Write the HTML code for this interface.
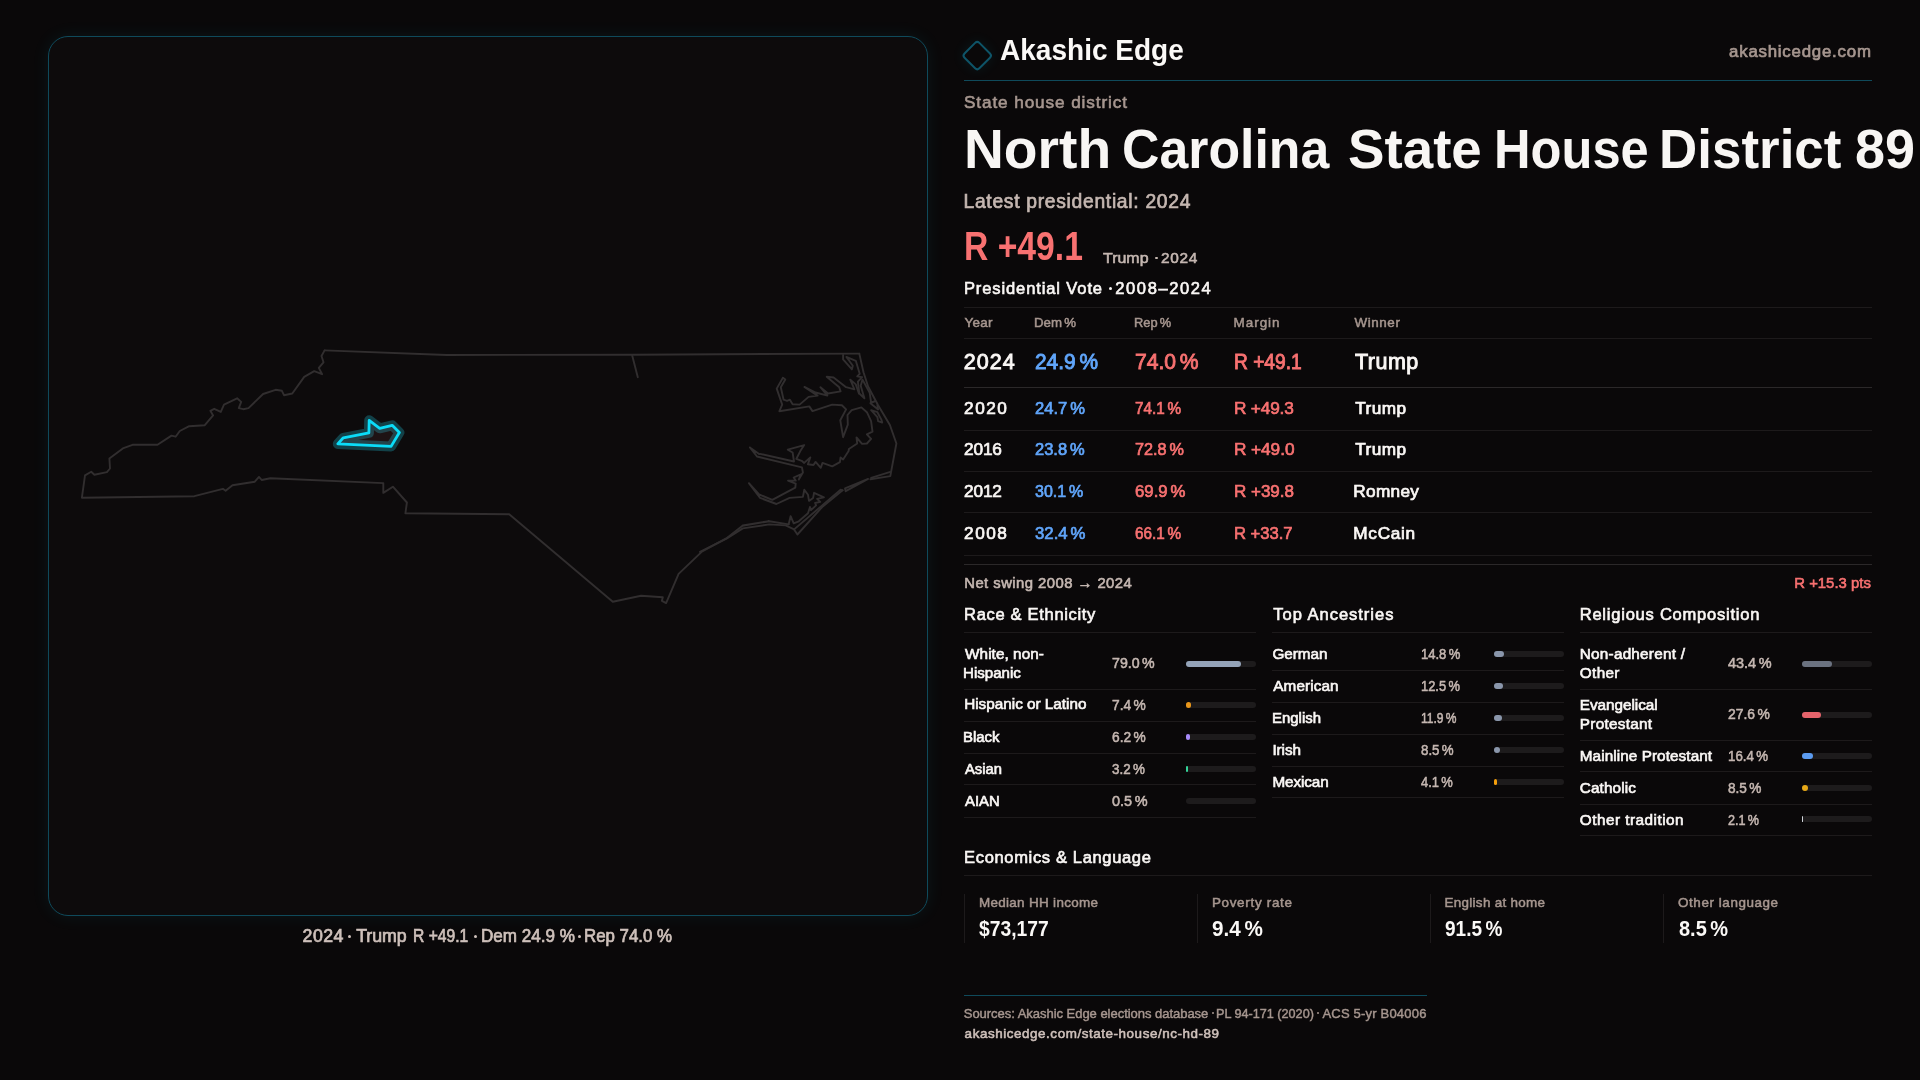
<!DOCTYPE html>
<html lang="en">
<head>
<meta charset="utf-8">
<title>North Carolina State House District 89 · Akashic Edge</title>
<style>
html,body{margin:0;padding:0;}
body{width:1920px;height:1080px;overflow:hidden;background:#0a0809;font-family:"Liberation Sans",sans-serif;position:relative;}
.t{position:absolute;white-space:pre;line-height:1;transform-origin:0 50%;}
.s{position:absolute;}
#panel{position:absolute;left:48px;top:36px;width:878px;height:878px;border:1px solid #0f4a5b;border-radius:20px;background:#0d0b0c;box-shadow:0 0 18px rgba(34,211,238,0.075);}
#logo{position:absolute;left:966.45px;top:43.75px;width:18.5px;height:18.5px;border:2px solid #0e5468;border-radius:4px;transform:rotate(45deg);box-shadow:0 0 14px rgba(34,211,238,0.09);}
#tx{position:absolute;left:0;top:0;width:1920px;height:1080px;will-change:transform;}
#map{position:absolute;left:0;top:0;width:1920px;height:1080px;}
</style>
</head>
<body>
<div id="panel"></div>
<svg id="map" viewBox="0 0 1920 1080" width="1920" height="1080" fill="none">
<defs><filter id="glow" x="-50%" y="-50%" width="200%" height="200%"><feGaussianBlur stdDeviation="1.6"/></filter></defs>
<g stroke="#312e2f" stroke-width="1.9" stroke-linejoin="round" stroke-linecap="round">
<path d="M324.6 350.4 L321.5 356.0 L323.5 362.3 L318.8 367.9 L322.1 374.2 L314.2 371.2 L304.2 376.9 L292.3 393.5 L284.0 395.2 L281.9 390.8 L275.6 389.8 L263.1 394.0 L248.5 408.1 L243.3 409.2 L238.8 408.1 L241.2 401.9 L237.1 398.3 L224.0 404.6 L220.8 411.9 L214.2 408.8 L210.4 410.8 L213.1 415.4 L204.8 425.2 L189.2 426.2 L179.8 431.0 L175.6 436.7 L171.5 435.6 L157.5 444.8 L132.5 444.8 L123.5 448.1 L109.4 458.5 L110.0 468.5 L106.9 472.1 L94.4 474.8 L91.2 471.7 L85.0 475.4 L81.9 497.7 L194.4 496.2 L222.9 488.8 L225.6 490.8 L232.5 485.2 L254.8 481.7 L259.0 476.9 L261.7 480.0 L270.4 478.3 L383.3 483.1 L383.3 492.9 L392.9 486.7 L406.9 502.5 L405.4 513.3 L509.2 514.2 L612.8 601.7 L641.1 595.8 L662.8 597.2 L661.9 600.8 L666.1 603.1 L678.6 573.9 L702.2 551.4 L727.2 537.8 L742.5 525.8 L768.9 521.1 L742.8 525.4 L769.3 521.3 L788.6 524.4"/>
<path d="M324.6 350.4 L446.7 355.0 L632.0 354.7 L859.3 353.6"/>
<path d="M632.2 355.6 L637.8 377.2"/>
<path d="M859.3 353.6 L863.5 372.2 L868.1 386.5 L878.1 405.3 L889.9 425.0 L896.4 443.5 L890.3 476.1 L870.4 479.3"/>
<path d="M890.3 471.9 L871.1 477.8"/>
<path d="M868.1 478.9 L845.7 491.2 L845.0 488.3 L868.1 478.9"/>
<path d="M842.6 490.3 L822.2 507.0 L797.4 534.5 L794.1 529.4 L785.6 525.4 L769.3 524.4 L742.8 528.4 L726.5 538.6 L700.0 551.9"/>
<path d="M794.1 529.4 L822.2 505.4 L840.6 489.7 L842.6 490.3"/>
<path d="M843.1 355.0 L843.1 359.4 L851.9 369.4 L852.8 365.7 L849.2 360.8 L846.4 356.9 L855.8 360.8 L859.7 373.8 L857.2 376.4 L862.1 377.2 L857.9 381.7 L859.3 393.5 L864.4 398.3 L860.7 385.8 L862.5 379.6 L869.7 392.8 L871.1 402.5 L875.3 401.1 L870.4 403.2 L878.1 409.4 L877.4 405.3"/>
<path d="M871.1 410.1 L877.4 412.2 L881.5 419.9 L882.2 422.6 L878.1 421.2 L877.4 417.1 Z"/>
<path d="M782.9 377.8 L785.3 379.6 L780.8 387.2 L783.6 399.7 L787.1 400.8 L789.9 399.7 L792.6 404.2 L799.6 404.6 L808.6 396.9 L817.6 395.6 L804.4 386.9 L815.6 392.5 L827.4 395.6 L820.4 387.2 L828.1 393.5 L840.6 391.4 L839.2 387.2 L826.7 376.8 L833.6 377.5 L846.1 387.2 L854.4 389.3 L850.3 379.6 L855.8 384.4 L858.9 393.5"/>
<path d="M782.9 377.8 L776.7 388.6 L782.2 404.6 L779.4 411.2 L809.3 406.4 L812.5 411.1 L832.2 404.6 L841.9 405.3 L846.1 409.4 L840.3 420.3 L843.1 437.2 L847.8 424.7 L847.5 415.0 L851.7 410.1 L861.4 407.4 L866.9 412.2 L871.1 421.2 L872.5 431.7 L866.9 434.4 L871.1 438.9 L866.9 443.5 L862.1 443.9 L856.5 437.5 L857.2 443.5 L848.9 449.0 L848.6 451.1 L843.1 459.4 L840.6 457.4 L839.9 462.2 L832.2 466.4 L822.5 462.9 L820.8 467.8 L815.6 461.9 L813.5 465.0 L807.9 464.3 L810.3 457.4 L804.2 462.9 L801.7 460.8 L796.4 458.8 L800.3 451.1 L804.2 445.1 L787.8 449.7 L792.6 452.5 L794.0 461.5 L760.0 453.9"/>
<path d="M759.1 454.1 L749.9 447.4 L757.0 456.5 L801.9 467.3 L802.9 472.4 L798.8 479.5 L800.8 474.4 L793.7 477.5 L795.7 480.6 L788.0 480.6 L795.7 483.6 L795.3 487.7 L772.3 499.9 L759.1 494.4 L748.9 483.2 L760.1 497.9 L776.4 504.0 L789.6 497.9 L802.9 496.9 L804.3 489.7 L808.0 494.8 L809.0 500.9 L813.1 497.9 L814.1 492.8 L823.9 497.3 L817.1 498.9 L820.2 501.9 L815.1 503.0 L816.1 505.4 L811.0 510.1 L810.0 507.0 L808.0 513.2 L798.8 521.3 L793.7 523.3 L790.6 516.2 L788.6 524.4"/>
</g>
<path d="M369.2 420.3 L379.7 428.3 L392.2 425.3 L399.4 432.5 L391.1 446.4 L337.8 443.9 L343.3 437.8 L368.9 432.8 Z" stroke="#22d3ee" stroke-opacity="0.27" stroke-width="10" stroke-linejoin="round"/>
<path d="M369.2 420.3 L379.7 428.3 L392.2 425.3 L399.4 432.5 L391.1 446.4 L337.8 443.9 L343.3 437.8 L368.9 432.8 Z" fill="rgba(248,113,113,0.08)" stroke="#0bdcf8" stroke-width="2.8" stroke-linejoin="round"/>
</svg>
<div id="logo"></div>
<div class="s" style="left:964px;top:80px;width:908px;height:1px;background:#0f4a5b"></div>
<div class="s" style="left:964px;top:307px;width:908px;height:1px;background:#1d1a1b"></div>
<div class="s" style="left:964px;top:338px;width:908px;height:1px;background:#1d1a1b"></div>
<div class="s" style="left:964px;top:387px;width:908px;height:1px;background:#2b2829"></div>
<div class="s" style="left:964px;top:430px;width:908px;height:1px;background:#1d1a1b"></div>
<div class="s" style="left:964px;top:471px;width:908px;height:1px;background:#1d1a1b"></div>
<div class="s" style="left:964px;top:512px;width:908px;height:1px;background:#1d1a1b"></div>
<div class="s" style="left:964px;top:555px;width:908px;height:1px;background:#1d1a1b"></div>
<div class="s" style="left:964px;top:564px;width:908px;height:1px;background:#2b2829"></div>
<div class="s" style="left:964px;top:632px;width:292px;height:1px;background:#1d1a1b"></div>
<div class="s" style="left:1272px;top:632px;width:292px;height:1px;background:#1d1a1b"></div>
<div class="s" style="left:1580px;top:632px;width:292px;height:1px;background:#1d1a1b"></div>
<div class="s" style="left:964px;top:689px;width:292px;height:1px;background:#1d1a1b"></div>
<div class="s" style="left:964px;top:721px;width:292px;height:1px;background:#1d1a1b"></div>
<div class="s" style="left:964px;top:753px;width:292px;height:1px;background:#1d1a1b"></div>
<div class="s" style="left:964px;top:784px;width:292px;height:1px;background:#1d1a1b"></div>
<div class="s" style="left:964px;top:817px;width:292px;height:1px;background:#1d1a1b"></div>
<div class="s" style="left:1272px;top:670px;width:292px;height:1px;background:#1d1a1b"></div>
<div class="s" style="left:1272px;top:702px;width:292px;height:1px;background:#1d1a1b"></div>
<div class="s" style="left:1272px;top:734px;width:292px;height:1px;background:#1d1a1b"></div>
<div class="s" style="left:1272px;top:766px;width:292px;height:1px;background:#1d1a1b"></div>
<div class="s" style="left:1272px;top:797px;width:292px;height:1px;background:#1d1a1b"></div>
<div class="s" style="left:1580px;top:689px;width:292px;height:1px;background:#1d1a1b"></div>
<div class="s" style="left:1580px;top:740px;width:292px;height:1px;background:#1d1a1b"></div>
<div class="s" style="left:1580px;top:771px;width:292px;height:1px;background:#1d1a1b"></div>
<div class="s" style="left:1580px;top:804px;width:292px;height:1px;background:#1d1a1b"></div>
<div class="s" style="left:1580px;top:835px;width:292px;height:1px;background:#1d1a1b"></div>
<div class="s" style="left:964px;top:875px;width:908px;height:1px;background:#1d1a1b"></div>
<div class="s" style="left:964px;top:894px;width:1px;height:49px;background:#1d1a1b"></div>
<div class="s" style="left:1197px;top:894px;width:1px;height:49px;background:#1d1a1b"></div>
<div class="s" style="left:1430px;top:894px;width:1px;height:49px;background:#1d1a1b"></div>
<div class="s" style="left:1663px;top:894px;width:1px;height:49px;background:#1d1a1b"></div>
<div class="s" style="left:964px;top:995px;width:463px;height:1px;background:#0f4a5b"></div>
<div class="s" style="left:1186px;top:661px;width:70px;height:6px;border-radius:3px;background:#1d1b1c"></div>
<div class="s" style="left:1186px;top:661px;width:55.30px;height:6px;border-radius:3px;background:#94a3b8"></div>
<div class="s" style="left:1186px;top:702px;width:70px;height:6px;border-radius:3px;background:#1d1b1c"></div>
<div class="s" style="left:1186px;top:702px;width:5.18px;height:6px;border-radius:3px;background:#e8961a"></div>
<div class="s" style="left:1186px;top:734px;width:70px;height:6px;border-radius:3px;background:#1d1b1c"></div>
<div class="s" style="left:1186px;top:734px;width:4.34px;height:6px;border-radius:3px;background:#a78bfa"></div>
<div class="s" style="left:1186px;top:766px;width:70px;height:6px;border-radius:3px;background:#1d1b1c"></div>
<div class="s" style="left:1186px;top:766px;width:2.24px;height:6px;border-radius:3px;background:#34d399"></div>
<div class="s" style="left:1186px;top:798px;width:70px;height:6px;border-radius:3px;background:#1d1b1c"></div>
<div class="s" style="left:1494px;top:651px;width:70px;height:6px;border-radius:3px;background:#1d1b1c"></div>
<div class="s" style="left:1494px;top:651px;width:10.36px;height:6px;border-radius:3px;background:#8a96ab"></div>
<div class="s" style="left:1494px;top:683px;width:70px;height:6px;border-radius:3px;background:#1d1b1c"></div>
<div class="s" style="left:1494px;top:683px;width:8.75px;height:6px;border-radius:3px;background:#8a96ab"></div>
<div class="s" style="left:1494px;top:715px;width:70px;height:6px;border-radius:3px;background:#1d1b1c"></div>
<div class="s" style="left:1494px;top:715px;width:8.33px;height:6px;border-radius:3px;background:#8a96ab"></div>
<div class="s" style="left:1494px;top:747px;width:70px;height:6px;border-radius:3px;background:#1d1b1c"></div>
<div class="s" style="left:1494px;top:747px;width:5.95px;height:6px;border-radius:3px;background:#8a96ab"></div>
<div class="s" style="left:1494px;top:779px;width:70px;height:6px;border-radius:3px;background:#1d1b1c"></div>
<div class="s" style="left:1494px;top:779px;width:2.87px;height:6px;border-radius:3px;background:#f59e0b"></div>
<div class="s" style="left:1802px;top:661px;width:70px;height:6px;border-radius:3px;background:#1d1b1c"></div>
<div class="s" style="left:1802px;top:661px;width:30.38px;height:6px;border-radius:3px;background:#6b7280"></div>
<div class="s" style="left:1802px;top:712px;width:70px;height:6px;border-radius:3px;background:#1d1b1c"></div>
<div class="s" style="left:1802px;top:712px;width:19.32px;height:6px;border-radius:3px;background:#e5636b"></div>
<div class="s" style="left:1802px;top:753px;width:70px;height:6px;border-radius:3px;background:#1d1b1c"></div>
<div class="s" style="left:1802px;top:753px;width:11.48px;height:6px;border-radius:3px;background:#5b9bf0"></div>
<div class="s" style="left:1802px;top:785px;width:70px;height:6px;border-radius:3px;background:#1d1b1c"></div>
<div class="s" style="left:1802px;top:785px;width:5.95px;height:6px;border-radius:3px;background:#e6a817"></div>
<div class="s" style="left:1802px;top:816px;width:70px;height:6px;border-radius:3px;background:#1d1b1c"></div>
<div class="s" style="left:1802px;top:816px;width:1.47px;height:6px;border-radius:3px;background:#d1d5db"></div>
<div class="s" style="left:1154.95px;top:256.80px;width:2.6px;height:2.6px;border-radius:50%;background:#c5b7b1"></div>
<div class="s" style="left:1108.90px;top:286.50px;width:3.2px;height:3.2px;border-radius:50%;background:#faf7f5"></div>
<div class="s" style="left:1211.50px;top:1012.30px;width:2.2px;height:2.2px;border-radius:50%;background:#a6968f"></div>
<div class="s" style="left:1316.60px;top:1012.30px;width:2.2px;height:2.2px;border-radius:50%;background:#a6968f"></div>
<div class="s" style="left:347.90px;top:935.10px;width:3px;height:3px;border-radius:50%;background:#cfc1bb"></div>
<div class="s" style="left:474.30px;top:935.10px;width:3px;height:3px;border-radius:50%;background:#cfc1bb"></div>
<div class="s" style="left:577.90px;top:935.10px;width:3px;height:3px;border-radius:50%;background:#cfc1bb"></div>
<div id="tx">
<span class="t" style="left:999.84px;top:35.00px;font-size:30.03px;color:#fbf9f7;transform:scaleX(0.9338);font-weight:700;">Akashic Edge</span>
<span class="t" style="left:1729.06px;top:44.07px;font-size:16.84px;color:#a6968f;letter-spacing:0.778px;-webkit-text-stroke:0.7px #a6968f;">akashicedge.com</span>
<span class="t" style="left:963.92px;top:93.80px;font-size:17.19px;color:#a6968f;letter-spacing:0.895px;-webkit-text-stroke:0.6px #a6968f;">State house district</span>
<span class="t" style="left:964.23px;top:120.91px;font-size:56.41px;color:#f8f6f4;transform:scaleX(0.9786);font-weight:700;">North</span>
<span class="t" style="left:1122.05px;top:120.91px;font-size:56.41px;color:#f8f6f4;transform:scaleX(0.9184);font-weight:700;">Carolina</span>
<span class="t" style="left:1347.95px;top:120.91px;font-size:56.41px;color:#f8f6f4;transform:scaleX(0.9701);font-weight:700;">State</span>
<span class="t" style="left:1494.18px;top:120.91px;font-size:56.41px;color:#f8f6f4;transform:scaleX(0.8976);font-weight:700;">House</span>
<span class="t" style="left:1659.18px;top:120.91px;font-size:56.41px;color:#f8f6f4;transform:scaleX(0.9388);font-weight:700;">District</span>
<span class="t" style="left:1855.00px;top:120.91px;font-size:56.41px;color:#f8f6f4;transform:scaleX(0.9562);font-weight:700;">89</span>
<span class="t" style="left:963.47px;top:192.08px;font-size:19.3px;color:#c5b7b1;letter-spacing:0.701px;-webkit-text-stroke:0.68px #c5b7b1;">Latest presidential: 2024</span>
<span class="t" style="left:964.00px;top:225.72px;font-size:40.07px;color:#f87171;transform:scaleX(0.8411);font-weight:700;">R +49.1</span>
<span class="t" style="left:1103.35px;top:250.21px;font-size:15.39px;color:#c5b7b1;transform:scaleX(1.0379);-webkit-text-stroke:0.58px #c5b7b1;">Trump</span>
<span class="t" style="left:1160.91px;top:250.21px;font-size:15.39px;color:#c5b7b1;letter-spacing:0.720px;-webkit-text-stroke:0.58px #c5b7b1;">2024</span>
<span class="t" style="left:963.95px;top:281.30px;font-size:16.55px;color:#faf7f5;letter-spacing:0.878px;-webkit-text-stroke:0.62px #faf7f5;">Presidential Vote</span>
<span class="t" style="left:1115.34px;top:281.30px;font-size:16.55px;color:#faf7f5;letter-spacing:1.575px;-webkit-text-stroke:0.62px #faf7f5;">2008–2024</span>
<span class="t" style="left:964.62px;top:315.55px;font-size:13.45px;color:#a6968f;letter-spacing:0.210px;-webkit-text-stroke:0.52px #a6968f;">Year</span>
<span class="t" style="left:1034.11px;top:315.55px;font-size:13.45px;color:#a6968f;word-spacing:-1.345px;transform:scaleX(0.9868);-webkit-text-stroke:0.52px #a6968f;">Dem %</span>
<span class="t" style="left:1133.55px;top:315.55px;font-size:13.45px;color:#a6968f;word-spacing:-1.345px;transform:scaleX(0.9553);-webkit-text-stroke:0.52px #a6968f;">Rep %</span>
<span class="t" style="left:1233.55px;top:315.55px;font-size:13.45px;color:#a6968f;letter-spacing:0.990px;-webkit-text-stroke:0.52px #a6968f;">Margin</span>
<span class="t" style="left:1354.45px;top:315.55px;font-size:13.45px;color:#a6968f;letter-spacing:0.576px;-webkit-text-stroke:0.52px #a6968f;">Winner</span>
<span class="t" style="left:963.87px;top:351.76px;font-size:21.52px;color:#faf7f5;letter-spacing:0.960px;-webkit-text-stroke:0.9px #faf7f5;">2024</span>
<span class="t" style="left:1034.60px;top:351.76px;font-size:21.52px;color:#60a5fa;word-spacing:-2.152px;transform:scaleX(0.9710);-webkit-text-stroke:0.9px #60a5fa;">24.9 %</span>
<span class="t" style="left:1134.60px;top:351.76px;font-size:21.52px;color:#f87171;word-spacing:-2.152px;transform:scaleX(0.9797);-webkit-text-stroke:0.9px #f87171;">74.0 %</span>
<span class="t" style="left:1233.70px;top:351.76px;font-size:21.52px;color:#f87171;transform:scaleX(0.8912);-webkit-text-stroke:0.9px #f87171;">R +49.1</span>
<span class="t" style="left:1354.94px;top:351.76px;font-size:21.52px;color:#faf7f5;letter-spacing:0.495px;-webkit-text-stroke:0.9px #faf7f5;">Trump</span>
<span class="t" style="left:964.09px;top:400.16px;font-size:17.22px;color:#faf7f5;letter-spacing:1.530px;-webkit-text-stroke:0.72px #faf7f5;">2020</span>
<span class="t" style="left:1034.82px;top:400.16px;font-size:17.22px;color:#60a5fa;word-spacing:-1.722px;transform:scaleX(0.9635);-webkit-text-stroke:0.72px #60a5fa;">24.7 %</span>
<span class="t" style="left:1134.82px;top:400.16px;font-size:17.22px;color:#f87171;word-spacing:-1.722px;transform:scaleX(0.8888);-webkit-text-stroke:0.72px #f87171;">74.1 %</span>
<span class="t" style="left:1233.92px;top:400.16px;font-size:17.22px;color:#f87171;letter-spacing:-0.142px;-webkit-text-stroke:0.72px #f87171;">R +49.3</span>
<span class="t" style="left:1355.16px;top:400.16px;font-size:17.22px;color:#faf7f5;letter-spacing:0.439px;-webkit-text-stroke:0.72px #faf7f5;">Trump</span>
<span class="t" style="left:964.09px;top:441.35px;font-size:17.22px;color:#faf7f5;letter-spacing:-0.150px;-webkit-text-stroke:0.72px #faf7f5;">2016</span>
<span class="t" style="left:1034.82px;top:441.35px;font-size:17.22px;color:#60a5fa;word-spacing:-1.722px;transform:scaleX(0.9600);-webkit-text-stroke:0.72px #60a5fa;">23.8 %</span>
<span class="t" style="left:1134.82px;top:441.35px;font-size:17.22px;color:#f87171;word-spacing:-1.722px;transform:scaleX(0.9418);-webkit-text-stroke:0.72px #f87171;">72.8 %</span>
<span class="t" style="left:1233.92px;top:441.35px;font-size:17.22px;color:#f87171;letter-spacing:-0.030px;-webkit-text-stroke:0.72px #f87171;">R +49.0</span>
<span class="t" style="left:1355.16px;top:441.35px;font-size:17.22px;color:#faf7f5;letter-spacing:0.439px;-webkit-text-stroke:0.72px #faf7f5;">Trump</span>
<span class="t" style="left:964.09px;top:483.35px;font-size:17.22px;color:#faf7f5;letter-spacing:-0.150px;-webkit-text-stroke:0.72px #faf7f5;">2012</span>
<span class="t" style="left:1034.82px;top:483.35px;font-size:17.22px;color:#60a5fa;word-spacing:-1.722px;transform:scaleX(0.9307);-webkit-text-stroke:0.72px #60a5fa;">30.1 %</span>
<span class="t" style="left:1134.82px;top:483.35px;font-size:17.22px;color:#f87171;word-spacing:-1.722px;transform:scaleX(0.9747);-webkit-text-stroke:0.72px #f87171;">69.9 %</span>
<span class="t" style="left:1233.92px;top:483.35px;font-size:17.22px;color:#f87171;transform:scaleX(0.9876);-webkit-text-stroke:0.72px #f87171;">R +39.8</span>
<span class="t" style="left:1353.36px;top:483.35px;font-size:17.22px;color:#faf7f5;letter-spacing:0.306px;-webkit-text-stroke:0.72px #faf7f5;">Romney</span>
<span class="t" style="left:964.09px;top:525.05px;font-size:17.22px;color:#faf7f5;letter-spacing:1.530px;-webkit-text-stroke:0.72px #faf7f5;">2008</span>
<span class="t" style="left:1034.82px;top:525.05px;font-size:17.22px;color:#60a5fa;word-spacing:-1.722px;transform:scaleX(0.9747);-webkit-text-stroke:0.72px #60a5fa;">32.4 %</span>
<span class="t" style="left:1134.82px;top:525.05px;font-size:17.22px;color:#f87171;word-spacing:-1.722px;transform:scaleX(0.8888);-webkit-text-stroke:0.72px #f87171;">66.1 %</span>
<span class="t" style="left:1233.92px;top:525.05px;font-size:17.22px;color:#f87171;transform:scaleX(0.9637);-webkit-text-stroke:0.72px #f87171;">R +33.7</span>
<span class="t" style="left:1353.36px;top:525.05px;font-size:17.22px;color:#faf7f5;letter-spacing:0.684px;-webkit-text-stroke:0.72px #faf7f5;">McCain</span>
<span class="t" style="left:964.21px;top:575.61px;font-size:14.86px;color:#c5b7b1;letter-spacing:0.450px;-webkit-text-stroke:0.6px #c5b7b1;">Net swing 2008 → 2024</span>
<span class="t" style="left:1794.26px;top:575.61px;font-size:14.86px;color:#f87171;letter-spacing:0.018px;-webkit-text-stroke:0.6px #f87171;">R +15.3 pts</span>
<span class="t" style="left:964.12px;top:606.61px;font-size:16.55px;color:#faf7f5;letter-spacing:0.666px;-webkit-text-stroke:0.62px #faf7f5;">Race &amp; Ethnicity</span>
<span class="t" style="left:1273.24px;top:606.61px;font-size:16.55px;color:#faf7f5;letter-spacing:0.976px;-webkit-text-stroke:0.62px #faf7f5;">Top Ancestries</span>
<span class="t" style="left:1579.73px;top:606.61px;font-size:16.55px;color:#faf7f5;letter-spacing:0.761px;-webkit-text-stroke:0.62px #faf7f5;">Religious Composition</span>
<span class="t" style="left:964.12px;top:849.70px;font-size:16.55px;color:#faf7f5;letter-spacing:0.639px;-webkit-text-stroke:0.62px #faf7f5;">Economics &amp; Language</span>
<span class="t" style="left:965.09px;top:646.47px;font-size:15.29px;color:#faf7f5;letter-spacing:0.068px;-webkit-text-stroke:0.65px #faf7f5;">White, non-</span>
<span class="t" style="left:963.29px;top:664.69px;font-size:15.29px;color:#faf7f5;transform:scaleX(0.9877);-webkit-text-stroke:0.65px #faf7f5;">Hispanic</span>
<span class="t" style="left:964.19px;top:696.47px;font-size:15.29px;color:#faf7f5;-webkit-text-stroke:0.65px #faf7f5;">Hispanic or Latino</span>
<span class="t" style="left:963.29px;top:728.88px;font-size:15.29px;color:#faf7f5;transform:scaleX(0.9789);-webkit-text-stroke:0.65px #faf7f5;">Black</span>
<span class="t" style="left:965.09px;top:760.88px;font-size:15.29px;color:#faf7f5;transform:scaleX(0.9667);-webkit-text-stroke:0.65px #faf7f5;">Asian</span>
<span class="t" style="left:965.09px;top:792.78px;font-size:15.29px;color:#faf7f5;transform:scaleX(0.9736);-webkit-text-stroke:0.65px #faf7f5;">AIAN</span>
<span class="t" style="left:1112.13px;top:654.62px;font-size:15.39px;color:#c5b7b1;word-spacing:-1.539px;transform:scaleX(0.9220);-webkit-text-stroke:0.58px #c5b7b1;">79.0 %</span>
<span class="t" style="left:1112.13px;top:696.52px;font-size:15.39px;color:#c5b7b1;word-spacing:-1.539px;transform:scaleX(0.8953);-webkit-text-stroke:0.58px #c5b7b1;">7.4 %</span>
<span class="t" style="left:1112.13px;top:728.93px;font-size:15.39px;color:#c5b7b1;word-spacing:-1.539px;transform:scaleX(0.8932);-webkit-text-stroke:0.58px #c5b7b1;">6.2 %</span>
<span class="t" style="left:1112.13px;top:760.93px;font-size:15.39px;color:#c5b7b1;word-spacing:-1.539px;transform:scaleX(0.8705);-webkit-text-stroke:0.58px #c5b7b1;">3.2 %</span>
<span class="t" style="left:1112.13px;top:792.82px;font-size:15.39px;color:#c5b7b1;word-spacing:-1.539px;transform:scaleX(0.9402);-webkit-text-stroke:0.58px #c5b7b1;">0.5 %</span>
<span class="t" style="left:1272.41px;top:646.08px;font-size:15.29px;color:#faf7f5;letter-spacing:-0.018px;-webkit-text-stroke:0.65px #faf7f5;">German</span>
<span class="t" style="left:1273.31px;top:678.08px;font-size:15.29px;color:#faf7f5;letter-spacing:0.090px;-webkit-text-stroke:0.65px #faf7f5;">American</span>
<span class="t" style="left:1271.51px;top:710.08px;font-size:15.29px;color:#faf7f5;transform:scaleX(0.9771);-webkit-text-stroke:0.65px #faf7f5;">English</span>
<span class="t" style="left:1272.41px;top:742.08px;font-size:15.29px;color:#faf7f5;letter-spacing:-0.068px;-webkit-text-stroke:0.65px #faf7f5;">Irish</span>
<span class="t" style="left:1272.41px;top:774.08px;font-size:15.29px;color:#faf7f5;letter-spacing:-0.090px;-webkit-text-stroke:0.65px #faf7f5;">Mexican</span>
<span class="t" style="left:1420.52px;top:646.12px;font-size:15.39px;color:#c5b7b1;word-spacing:-1.539px;transform:scaleX(0.8475);-webkit-text-stroke:0.58px #c5b7b1;">14.8 %</span>
<span class="t" style="left:1420.52px;top:678.12px;font-size:15.39px;color:#c5b7b1;word-spacing:-1.539px;transform:scaleX(0.8391);-webkit-text-stroke:0.58px #c5b7b1;">12.5 %</span>
<span class="t" style="left:1420.52px;top:710.12px;font-size:15.39px;color:#c5b7b1;word-spacing:-1.539px;transform:scaleX(0.7830);-webkit-text-stroke:0.58px #c5b7b1;">11.9 %</span>
<span class="t" style="left:1420.52px;top:742.12px;font-size:15.39px;color:#c5b7b1;word-spacing:-1.539px;transform:scaleX(0.8653);-webkit-text-stroke:0.58px #c5b7b1;">8.5 %</span>
<span class="t" style="left:1420.52px;top:774.12px;font-size:15.39px;color:#c5b7b1;word-spacing:-1.539px;transform:scaleX(0.8413);-webkit-text-stroke:0.58px #c5b7b1;">4.1 %</span>
<span class="t" style="left:1579.80px;top:646.28px;font-size:15.29px;color:#faf7f5;letter-spacing:0.242px;-webkit-text-stroke:0.65px #faf7f5;">Non-adherent /</span>
<span class="t" style="left:1579.80px;top:665.19px;font-size:15.29px;color:#faf7f5;letter-spacing:0.360px;-webkit-text-stroke:0.65px #faf7f5;">Other</span>
<span class="t" style="left:1579.80px;top:697.08px;font-size:15.29px;color:#faf7f5;letter-spacing:-0.027px;-webkit-text-stroke:0.65px #faf7f5;">Evangelical</span>
<span class="t" style="left:1579.80px;top:716.08px;font-size:15.29px;color:#faf7f5;letter-spacing:0.280px;-webkit-text-stroke:0.65px #faf7f5;">Protestant</span>
<span class="t" style="left:1579.80px;top:747.97px;font-size:15.29px;color:#faf7f5;letter-spacing:0.080px;-webkit-text-stroke:0.65px #faf7f5;">Mainline Protestant</span>
<span class="t" style="left:1579.80px;top:779.97px;font-size:15.29px;color:#faf7f5;letter-spacing:0.129px;-webkit-text-stroke:0.65px #faf7f5;">Catholic</span>
<span class="t" style="left:1579.80px;top:811.69px;font-size:15.29px;color:#faf7f5;letter-spacing:0.495px;-webkit-text-stroke:0.65px #faf7f5;">Other tradition</span>
<span class="t" style="left:1727.96px;top:654.62px;font-size:15.39px;color:#c5b7b1;word-spacing:-1.539px;transform:scaleX(0.9398);-webkit-text-stroke:0.58px #c5b7b1;">43.4 %</span>
<span class="t" style="left:1727.96px;top:705.71px;font-size:15.39px;color:#c5b7b1;word-spacing:-1.539px;transform:scaleX(0.9034);-webkit-text-stroke:0.58px #c5b7b1;">27.6 %</span>
<span class="t" style="left:1727.96px;top:748.02px;font-size:15.39px;color:#c5b7b1;word-spacing:-1.539px;transform:scaleX(0.8637);-webkit-text-stroke:0.58px #c5b7b1;">16.4 %</span>
<span class="t" style="left:1727.96px;top:780.02px;font-size:15.39px;color:#c5b7b1;word-spacing:-1.539px;transform:scaleX(0.8855);-webkit-text-stroke:0.58px #c5b7b1;">8.5 %</span>
<span class="t" style="left:1727.96px;top:811.71px;font-size:15.39px;color:#c5b7b1;word-spacing:-1.539px;transform:scaleX(0.8203);-webkit-text-stroke:0.58px #c5b7b1;">2.1 %</span>
<span class="t" style="left:978.89px;top:895.85px;font-size:13.45px;color:#a6968f;letter-spacing:0.330px;-webkit-text-stroke:0.52px #a6968f;">Median HH income</span>
<span class="t" style="left:1211.89px;top:895.85px;font-size:13.45px;color:#a6968f;letter-spacing:0.695px;-webkit-text-stroke:0.52px #a6968f;">Poverty rate</span>
<span class="t" style="left:1444.55px;top:895.85px;font-size:13.45px;color:#a6968f;letter-spacing:0.289px;-webkit-text-stroke:0.52px #a6968f;">English at home</span>
<span class="t" style="left:1678.06px;top:895.85px;font-size:13.45px;color:#a6968f;letter-spacing:0.568px;-webkit-text-stroke:0.52px #a6968f;">Other language</span>
<span class="t" style="left:979.39px;top:918.10px;font-size:22.32px;color:#faf8f6;transform:scaleX(0.8647);font-weight:700;">$73,177</span>
<span class="t" style="left:1212.34px;top:918.10px;font-size:22.32px;color:#faf8f6;word-spacing:-2.232px;transform:scaleX(0.9263);font-weight:700;">9.4 %</span>
<span class="t" style="left:1445.00px;top:918.10px;font-size:22.32px;color:#faf8f6;word-spacing:-2.232px;transform:scaleX(0.8526);font-weight:700;">91.5 %</span>
<span class="t" style="left:1678.51px;top:918.10px;font-size:22.32px;color:#faf8f6;word-spacing:-2.232px;transform:scaleX(0.8964);font-weight:700;">8.5 %</span>
<span class="t" style="left:963.74px;top:1007.48px;font-size:13.04px;color:#a6968f;letter-spacing:-0.044px;-webkit-text-stroke:0.45px #a6968f;">Sources: Akashic Edge elections database</span>
<span class="t" style="left:1215.62px;top:1007.48px;font-size:13.04px;color:#a6968f;transform:scaleX(0.9697);-webkit-text-stroke:0.45px #a6968f;">PL 94-171 (2020)</span>
<span class="t" style="left:1322.42px;top:1007.48px;font-size:13.04px;color:#a6968f;letter-spacing:0.186px;-webkit-text-stroke:0.45px #a6968f;">ACS 5-yr B04006</span>
<span class="t" style="left:964.62px;top:1027.32px;font-size:13.41px;color:#cfc1bb;letter-spacing:0.563px;-webkit-text-stroke:0.55px #cfc1bb;">akashicedge.com/state-house/nc-hd-89</span>
<span class="t" style="left:302.62px;top:928.26px;font-size:17.75px;color:#cfc1bb;letter-spacing:0.405px;-webkit-text-stroke:0.7px #cfc1bb;">2024</span>
<span class="t" style="left:356.18px;top:928.26px;font-size:17.75px;color:#cfc1bb;letter-spacing:-0.045px;-webkit-text-stroke:0.7px #cfc1bb;">Trump</span>
<span class="t" style="left:412.55px;top:928.26px;font-size:17.75px;color:#cfc1bb;transform:scaleX(0.8804);-webkit-text-stroke:0.7px #cfc1bb;">R +49.1</span>
<span class="t" style="left:481.28px;top:928.26px;font-size:17.75px;color:#cfc1bb;transform:scaleX(0.9608);-webkit-text-stroke:0.7px #cfc1bb;">Dem 24.9 %</span>
<span class="t" style="left:584.16px;top:928.26px;font-size:17.75px;color:#cfc1bb;transform:scaleX(0.9495);-webkit-text-stroke:0.7px #cfc1bb;">Rep 74.0 %</span>
</div>
</body>
</html>
